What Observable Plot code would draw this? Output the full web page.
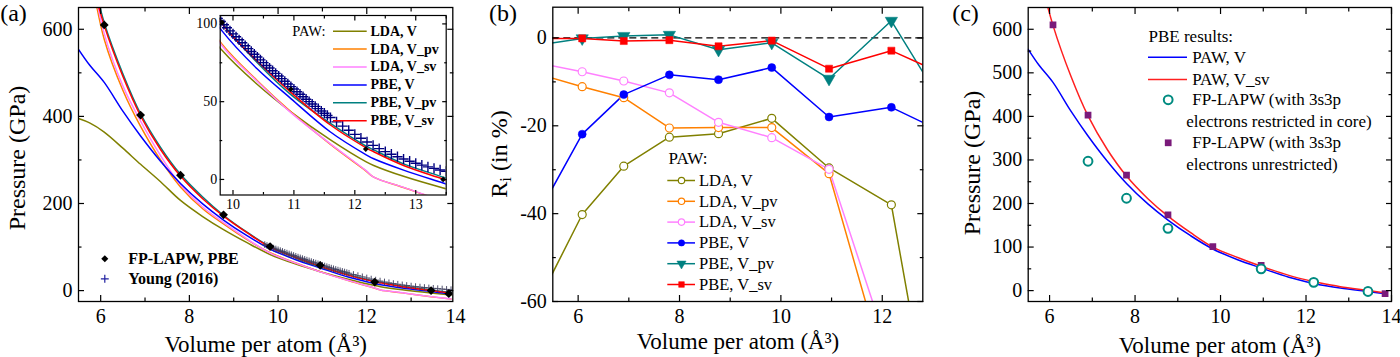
<!DOCTYPE html>
<html><head><meta charset="utf-8">
<script src="https://cdn.jsdelivr.net/npm/d3@7"></script>
<script src="https://cdn.jsdelivr.net/npm/@observablehq/plot@0.6"></script>
<style>
body{margin:0;background:#fff;}
#fig{position:relative;width:1400px;height:357px;font-family:'Liberation Serif','Times New Roman',serif;color:#000;overflow:hidden;background:#fff}
#fig > svg{position:absolute;top:0}
.ttl{position:absolute;white-space:nowrap;line-height:1;font-size:24px;}
</style></head><body><div id="fig"></div>
<script>
const FONT = "'Liberation Serif','Times New Roman',serif";
const H = 357;

// ---------------- data ----------------
// Panel (a)/(c): PAW equations of state, pressure (GPa) vs volume per atom (Å^3)
const volume = [5.5, 5.75, 6.08, 6.5, 6.9, 7.35, 7.8, 8.3, 8.77, 9.3, 9.82, 10.4, 10.95, 11.6, 12.18, 12.31, 12.8, 13.45, 13.9];
const seriesNames  = ["LDA, V", "LDA, V_pv", "LDA, V_sv", "PBE, V", "PBE, V_pv", "PBE, V_sv"];
const seriesColors = ["#808000", "#ff8000", "#ff80ff", "#0000ff", "#008080", "#ff0000"];
const pLDA_V   = [395, 385, 364, 327, 290, 250, 207, 170, 140, 110, 83, 61, 43.5, 25.5, 11.5, 9, 2, -5.5, -10];
const pLDA_Vpv = [880, 740, 577, 460, 377, 300, 238, 188, 153, 117, 87, 63.5, 43.5, 22.5, 5.5, 1.5, -5.2, -14, -19.5];
const pLDA_Vsv = [890, 752, 590, 470, 389, 310, 243, 192, 156, 119, 86, 63, 43, 22.9, 5.8, 1.5, -5.1, -13.8, -19.5];
const pPBE_V   = [554, 518, 478, 412, 355, 297, 246, 199, 162, 126, 95.5, 71, 52, 30.5, 16, 13.3, 6, -2.3, -8];
const pPBE_Vpv = [860, 750, 615, 498, 406, 329, 267, 215, 173, 134, 101, 75, 54.5, 36, 21.5, 19, 10, 1.5, -4.5];
const pPBE_Vsv = [830, 730, 609, 492, 401, 324, 263, 211, 171, 133, 100, 76, 56, 35, 20.5, 17.8, 9, 0.2, -6];

// FP-LAPW, PBE (3s3p unrestricted)
const fpVolume   = [6.08, 6.9, 7.8, 8.77, 9.82, 10.95, 12.18, 13.45, 13.85];
const fpPressure = [610, 403, 265, 174, 101, 58, 19.5, 0, -7];
// FP-LAPW with 3s3p restricted in core
const rsVolume   = [6.9, 7.8, 8.77, 10.95, 12.18, 13.45];
const rsPressure = [297, 212, 143, 50, 19, -2];
// Young (2016)
const youngVolume = [9.7, 9.75, 9.8, 9.85, 9.9, 9.95, 10.0, 10.05, 10.1, 10.15, 10.2, 10.25, 10.3, 10.35, 10.4, 10.45, 10.5, 10.55, 10.6, 10.65, 10.7, 10.75, 10.8, 10.85, 10.9, 10.95, 11.0, 11.05, 11.1, 11.15, 11.2, 11.25, 11.3, 11.35, 11.4, 11.45, 11.5, 11.55, 11.6,
  11.7, 11.8, 11.9, 12.0, 12.1, 12.2, 12.3, 12.4, 12.5, 12.6, 12.7, 12.8, 12.9, 13.0, 13.1, 13.2, 13.3, 13.4, 13.5, 13.6, 13.7, 13.8, 13.9];
const youngPressure = [105.6, 103.5, 101.5, 99.5, 97.5, 95.5, 93.6, 91.7, 89.8, 87.9, 86.0, 84.1, 82.3, 80.5, 78.7, 76.9, 75.1, 73.3, 71.6, 69.9, 68.2, 66.5, 64.8, 63.1, 61.4, 59.7, 58.1, 56.4, 54.8, 53.2, 51.6, 50.0, 48.5, 47.0, 45.5, 44.0, 42.6, 41.2, 39.8,
  37.0, 34.3, 31.6, 29.0, 26.5, 24.1, 21.9, 19.8, 17.9, 16.2, 14.6, 13.1, 11.7, 10.4, 9.2, 8.1, 7.1, 6.1, 5.2, 4.4, 3.6, 2.8, 2.1];

// Panel (b): R_i (%)
const riVolume = [5.3, 6.08, 6.9, 7.8, 8.77, 9.82, 10.95, 12.18, 13.45];
const rLDA_V   = [-58, -40.2, -29.2, -22.6, -21.8, -18.3, -29.6, -38, -120];
const rLDA_Vpv = [-8.5, -11.1, -13.6, -20.5, -20.4, -20.4, -30.9, -80.6, null];
const rLDA_Vsv = [-5.9, -7.7, -9.8, -12.5, -19.2, -22.7, -29.9, -73, null];
const rPBE_V   = [-38.2, -21.9, -12.9, -8.4, -9.5, -6.75, -18, -15.8, -22.8];
const rPBE_Vpv = [-1.45, -0.1, 0.45, 0.7, -2.7, -1.1, -9.3, 3.9, -20];
const rPBE_Vsv = [-0.1, -0.1, -0.7, -0.5, -1.9, -0.6, -7.0, -2.9, -9.5];
const riSymbols = ["circle", "circle", "circle", "circle", "triangle", "square"];
const riFilled  = [false, false, false, true, true, true];

// ticks
const xLabA = [6, 8, 10, 12, 14], xMajA = [6, 8, 10, 12], xMinA = [7, 9, 11, 13];
const yLabA = [0, 200, 400, 600], yMinA = [100, 300, 500];
const xLabIn = [10, 11, 12, 13], xMinIn = [10.5, 11.5, 12.5, 13.5];
const yLabIn = [0, 50, 100], yMinIn = [25, 75];
const xLabB = [6, 8, 10, 12], xMinB = [7, 9, 11];
const yLabB = [0, -20, -40, -60], yMinB = [-10, -30, -50];
const xLabC = [6, 8, 10, 12, 14], xMajC = [6, 8, 10, 12, 14], xMinC = [7, 9, 11, 13];
const yLabC = [0, 100, 200, 300, 400, 500, 600], yMinC = [50, 150, 250, 350, 450, 550];

// ---------------- tables ----------------
const pSeries = [pLDA_V, pLDA_Vpv, pLDA_Vsv, pPBE_V, pPBE_Vpv, pPBE_Vsv];
const rSeries = [rLDA_V, rLDA_Vpv, rLDA_Vsv, rPBE_V, rPBE_Vpv, rPBE_Vsv];
const curves = seriesNames.map((name, s) => volume.map((v, i) => ({name, v, p: pSeries[s][i]})));
const riRows = seriesNames.map((name, s) => riVolume.map((v, i) => ({name, v, r: rSeries[s][i]})).filter(d => d.r != null));
const fpRows = fpVolume.map((v, i) => ({v, p: fpPressure[i]}));
const rsRows = rsVolume.map((v, i) => ({v, p: rsPressure[i]}));
const youngRows = youngVolume.map((v, i) => ({v, p: youngPressure[i]}));

// ---------------- helpers ----------------
function frameAxes({xLab, xMaj, xMin, yLab, yMaj, yMin, fs, maj = 6, min = 3.5, xGap = 7, yGap = 6}) {
  const fmt = d => String(d), blank = () => "";
  const m = [
    Plot.axisX(xLab, {anchor: "bottom", tickSize: 0, tickPadding: xGap, tickFormat: fmt, fontSize: fs, label: null}),
    Plot.axisY(yLab, {anchor: "left", tickSize: 0, tickPadding: yGap, tickFormat: fmt, fontSize: fs, label: null})
  ];
  for (const a of ["bottom", "top"]) {
    m.push(Plot.axisX(xMaj, {anchor: a, tickSize: -maj, tickFormat: blank, label: null, strokeWidth: 1.2}));
    m.push(Plot.axisX(xMin, {anchor: a, tickSize: -min, tickFormat: blank, label: null, strokeWidth: 1.2}));
  }
  for (const a of ["left", "right"]) {
    m.push(Plot.axisY(yMaj, {anchor: a, tickSize: -maj, tickFormat: blank, label: null, strokeWidth: 1.2}));
    m.push(Plot.axisY(yMin, {anchor: a, tickSize: -min, tickFormat: blank, label: null, strokeWidth: 1.2}));
  }
  return m;
}
function place(svg, left) { svg.style.left = left + "px"; document.getElementById("fig").appendChild(svg); }
const baseStyle = {fontFamily: FONT, fontSize: "20px", background: "transparent", color: "black", overflow: "visible"};

// ---------------- panel (a) ----------------
const panelA = Plot.plot({
  width: 466, height: H, marginLeft: 78, marginRight: 13.7, marginTop: 7, marginBottom: 56,
  x: {domain: [5.5, 13.94], label: null}, y: {domain: [-25, 650], label: null},
  style: baseStyle,
  marks: [
    ...curves.map((rows, s) => Plot.line(rows, {x: "v", y: "p", stroke: seriesColors[s], strokeWidth: 1.5, curve: "catmull-rom", clip: true})),
    Plot.dot(youngRows, {x: "v", y: "p", symbol: "plus", r: 2.3, stroke: "#3c3c5c", strokeWidth: 0.9, clip: true}),
    Plot.dot(fpRows, {x: "v", y: "p", symbol: "diamond2", r: 4, fill: "black", clip: true}),
    Plot.frame({stroke: "black", strokeWidth: 1.3}),
    ...frameAxes({xLab: xLabA, xMaj: xMajA, xMin: xMinA, yLab: yLabA, yMaj: yLabA, yMin: yMinA, fs: 20})
  ]
});
place(panelA, 0);

// inset of (a)
const inset = Plot.plot({
  width: 262, height: 215, marginLeft: 29.7, marginRight: 6.3, marginTop: 15, marginBottom: 20.5,
  x: {domain: [9.79, 13.5], label: null}, y: {domain: [-10, 105.4], label: null},
  style: {...baseStyle, fontSize: "14px"},
  marks: [
    Plot.frame({fill: "white", stroke: null}),
    ...curves.map((rows, s) => Plot.line(rows, {x: "v", y: "p", stroke: seriesColors[s], strokeWidth: 1.5, curve: "catmull-rom", clip: true})),
    Plot.dot(youngRows, {x: "v", y: "p", symbol: "plus", r: 3.4, stroke: "#000080", strokeWidth: 1.4, clip: true}),
    Plot.dot(fpRows, {x: "v", y: "p", symbol: "diamond2", r: 2.6, fill: "black", clip: true}),
    Plot.frame({stroke: "black", strokeWidth: 1.2}),
    ...frameAxes({xLab: xLabIn, xMaj: xLabIn, xMin: xMinIn, yLab: yLabIn, yMaj: yLabIn, yMin: yMinIn, fs: 14, maj: 4.5, min: 2.5, xGap: 4, yGap: 3})
  ]
});
place(inset, 190);

// ---------------- panel (b) ----------------
const panelB = Plot.plot({
  width: 467, height: H, marginLeft: 86.3, marginRight: 10.7, marginTop: 6.7, marginBottom: 56,
  x: {domain: [5.5, 12.8], label: null}, y: {domain: [-60, 7], label: null},
  style: baseStyle,
  marks: [
    Plot.ruleY([0], {stroke: "black", strokeWidth: 1.3, strokeDasharray: "7,4"}),
    ...riRows.map((rows, s) => Plot.line(rows, {x: "v", y: "r", stroke: seriesColors[s], strokeWidth: 1.5, clip: true})),
    ...riRows.map((rows, s) => Plot.dot(rows, {x: "v", y: "r", symbol: riSymbols[s], r: riSymbols[s] === "triangle" ? 4.6 : 4,
      rotate: riSymbols[s] === "triangle" ? 180 : 0,
      fill: riFilled[s] ? seriesColors[s] : "white", stroke: seriesColors[s], strokeWidth: riFilled[s] ? 0.5 : 1.2, clip: true})),
    Plot.frame({stroke: "black", strokeWidth: 1.3}),
    ...frameAxes({xLab: xLabB, xMaj: xLabB, xMin: xMinB, yLab: yLabB, yMaj: yLabB, yMin: yMinB, fs: 20})
  ]
});
place(panelB, 466);

// ---------------- panel (c) ----------------
const panelC = Plot.plot({
  width: 467, height: H, marginLeft: 94.7, marginRight: 9, marginTop: 7, marginBottom: 56,
  x: {domain: [5.5, 14], label: null}, y: {domain: [-25, 650], label: null},
  style: baseStyle,
  marks: [
    Plot.line(curves[3], {x: "v", y: "p", stroke: "#0000ff", strokeWidth: 1.5, curve: "catmull-rom", clip: true}),
    Plot.line(curves[5], {x: "v", y: "p", stroke: "#ff2020", strokeWidth: 1.5, curve: "catmull-rom", clip: true}),
    Plot.dot(fpRows, {x: "v", y: "p", symbol: "square", r: 3.8, fill: "#7a1a7a", clip: true}),
    Plot.dot(rsRows, {x: "v", y: "p", symbol: "circle", r: 4.4, fill: "white", stroke: "#008b80", strokeWidth: 2, clip: true}),
    Plot.frame({stroke: "black", strokeWidth: 1.3}),
    ...frameAxes({xLab: xLabC, xMaj: xMajC, xMin: xMinC, yLab: yLabC, yMaj: yLabC, yMin: yMinC, fs: 20})
  ]
});
place(panelC, 933);

// ---------------- legends (overlay, pixel positions) ----------------
const legA = [
  {label: "FP-LAPW, PBE", symbol: "diamond2", r: 4, fill: "black", stroke: "none"},
  {label: "Young (2016)", symbol: "plus", r: 2.8, fill: "none", stroke: "#2020a0"}
].map((d, i) => ({...d, x: 104.3, tx: 127.7, y: 258.3 + i * 20}));
const legIn = seriesNames.map((label, s) => ({label, color: seriesColors[s], x1: 333, x2: 366.7, tx: 370, y: 30.7 + s * 17.9}));
const legB = seriesNames.map((label, s) => ({label, color: seriesColors[s], x1: 667.3, x2: 695, mx: 681, tx: 698.5, y: 180 + s * 20.8,
  symbol: riSymbols[s], filled: riFilled[s]}));
const legCLines = [{label: "PAW, V", color: "#0000ff"}, {label: "PAW, V_sv", color: "#ff2020"}]
  .map((d, i) => ({...d, x1: 1148, x2: 1187, tx: 1191.7, y: 56.7 + i * 22.3}));
const legCDots = [
  {l1: "FP-LAPW (with 3s3p", l2: "electrons restricted in core)", symbol: "circle"},
  {l1: "FP-LAPW (with 3s3p", l2: "electrons unrestricted)", symbol: "square"}
].map((d, i) => ({...d, x: 1167.7, tx: 1191.7, tx2: 1185.7, y: 99.3 + i * 43}));

const overlay = Plot.plot({
  width: 1400, height: H, margin: 0,
  x: {type: "identity", axis: null}, y: {type: "identity", axis: null},
  style: {...baseStyle},
  marks: [
    // (a) main legend
    Plot.dot(legA, {x: "x", y: "y", symbol: "symbol", r: "r", fill: d => d.fill, stroke: d => d.stroke, strokeWidth: 1.2}),
    Plot.text(legA, {x: "tx", y: "y", text: "label", textAnchor: "start", fontSize: 16, fontWeight: "bold"}),
    // inset legend
    Plot.text(["PAW:"], {x: 325, y: 30.7, text: d => d, textAnchor: "end", fontSize: 14.5}),
    Plot.ruleY(legIn, {y: "y", x1: "x1", x2: "x2", stroke: "color", strokeWidth: 1.5}),
    Plot.text(legIn, {x: "tx", y: "y", text: "label", textAnchor: "start", fontSize: 14, fontWeight: "bold"}),
    // (b) legend
    Plot.text(["PAW:"], {x: 668, y: 158, text: d => d, textAnchor: "start", fontSize: 17}),
    Plot.ruleY(legB, {y: "y", x1: "x1", x2: "x2", stroke: "color", strokeWidth: 1.5}),
    Plot.dot(legB, {x: "mx", y: "y", symbol: "symbol", r: d => d.symbol === "triangle" ? 4.6 : 4, rotate: d => d.symbol === "triangle" ? 180 : 0,
      fill: d => d.filled ? d.color : "white", stroke: "color", strokeWidth: d => d.filled ? 0.5 : 1.2}),
    Plot.text(legB, {x: "tx", y: "y", text: "label", textAnchor: "start", fontSize: 16.5}),
    // (c) legend
    Plot.text(["PBE results:"], {x: 1148, y: 35.7, text: d => d, textAnchor: "start", fontSize: 17}),
    Plot.ruleY(legCLines, {y: "y", x1: "x1", x2: "x2", stroke: "color", strokeWidth: 1.5}),
    Plot.text(legCLines, {x: "tx", y: "y", text: "label", textAnchor: "start", fontSize: 17}),
    Plot.dot(legCDots.filter(d => d.symbol === "circle"), {x: "x", y: "y", symbol: "circle", r: 4.4, fill: "white", stroke: "#008b80", strokeWidth: 2}),
    Plot.dot(legCDots.filter(d => d.symbol === "square"), {x: "x", y: "y", symbol: "square", r: 3.8, fill: "#7a1a7a"}),
    Plot.text(legCDots, {x: "tx", y: "y", text: "l1", textAnchor: "start", fontSize: 17}),
    Plot.text(legCDots, {x: "tx2", y: d => d.y + 21.5, text: "l2", textAnchor: "start", fontSize: 17})
  ]
});
place(overlay, 0);

// ---------------- titles (HTML text) ----------------
const fig = document.getElementById("fig");
function title(html, cx, cy, rotate = false, size = 24) {
  const d = document.createElement("div");
  d.className = "ttl";
  d.innerHTML = html;
  d.style.left = cx + "px"; d.style.top = cy + "px"; d.style.fontSize = size + "px";
  d.style.transform = "translate(-50%,-50%)" + (rotate ? " rotate(-90deg)" : "");
  fig.appendChild(d);
}
title("(a)", 13.5, 13);
title("(b)", 503, 13);
title("(c)", 965.5, 13);
title("Pressure (GPa)", 16.5, 158.3, true);
title("R<sub style='font-size:70%;vertical-align:-0.25em'>i</sub> (in %)", 501, 154, true);
title("Pressure (GPa)", 972.2, 162.8, true);
title("Volume per atom (Å³)", 265.7, 344, false, 23);
title("Volume per atom (Å³)", 738, 341, false, 23);
title("Volume per atom (Å³)", 1220, 345, false, 23);
</script></body></html>
